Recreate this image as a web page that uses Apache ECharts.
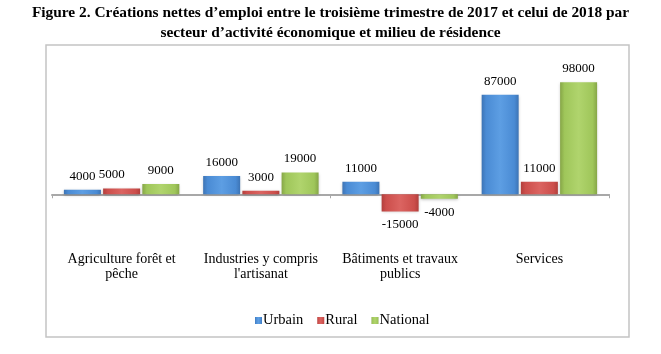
<!DOCTYPE html>
<html>
<head>
<meta charset="utf-8">
<script src="https://cdn.jsdelivr.net/npm/echarts@6/dist/echarts.min.js"></script>
<style>
  html, body { margin: 0; padding: 0; background: #fff; }
  #chart { width: 661px; height: 354px; }
</style>
</head>
<body>
<div id="chart"></div>
<script>
var categories = ['Agriculture forêt et\npêche', 'Industries y compris\nl\'artisanat', 'Bâtiments et travaux\npublics', 'Services']
var urbain = [4000, 16000, 11000, 87000]
var rural = [5000, 3000, -15000, 11000]
var national = [9000, 19000, -4000, 98000]

var serif = '"Liberation Serif", "DejaVu Serif", serif'

// couleur avec un petit effet de relief comme dans Excel
var bevel = function(dark, base, light) {
  return new echarts.graphic.LinearGradient(0, 0, 1, 0, [
    { offset: 0, color: dark },
    { offset: 0.12, color: base },
    { offset: 0.5, color: light },
    { offset: 0.88, color: base },
    { offset: 1, color: dark }
  ])
}

var mkSeries = function(name, values, fill) {
  return {
    name: name,
    type: 'bar',
    xAxisIndex: 0,
    barWidth: 37,
    barGap: '6%',
    data: values.map(function(v) {
      return { value: v, label: { position: v < 0 ? 'bottom' : 'top' } }
    }),
    itemStyle: {
      color: fill,
      shadowColor: 'rgba(0,0,0,0.25)',
      shadowBlur: 3,
      shadowOffsetY: 1
    },
    label: {
      show: true,
      distance: 7,
      color: '#000',
      fontFamily: serif,
      fontSize: 13
    }
  }
}

var chart = echarts.init(document.getElementById('chart'))
var series = [
  mkSeries('Urbain', urbain, bevel('#3d74b5', '#4a8bd4', '#5d9ee3')),
  mkSeries('Rural', rural, bevel('#b23f3c', '#cc4e4b', '#db6461')),
  mkSeries('National', national, bevel('#86a647', '#9fc65a', '#b0d46d'))
]
series[1].data[0].label.offset = [-10, 0]

var option = {
  animation: false,
  color: ['#4a8bd4', '#cc4e4b', '#9fc65a'],
  title: {
    text: 'Figure 2. Créations nettes d’emploi entre le troisième trimestre de 2017 et celui de 2018 par\nsecteur d’activité économique et milieu de résidence',
    left: 'center',
    top: -2,
    textStyle: {
      fontFamily: serif,
      fontWeight: 'bold',
      fontSize: 15.4,
      lineHeight: 20,
      color: '#000',
      align: 'center'
    }
  },
  graphic: [{
    type: 'rect',
    shape: { x: 46, y: 45, width: 583, height: 292 },
    style: { fill: 'none', stroke: '#c4c4c4', lineWidth: 1.5 },
    z: -1
  }],
  legend: {
    top: 308,
    left: 250,
    icon: 'rect',
    itemWidth: 7,
    itemHeight: 7,
    itemGap: 14,
    textStyle: { fontFamily: serif, fontSize: 14.5, color: '#000', padding: [0, 0, 0, -4] },
    data: ['Urbain', 'Rural', 'National']
  },
  grid: { left: 52, right: 52, top: 57, bottom: 114 },
  xAxis: [{
    type: 'category',
    data: categories,
    position: 'bottom',
    axisLine: { onZero: true, lineStyle: { color: '#a8a8a8', width: 2 } },
    axisTick: { show: true, length: 4, lineStyle: { color: '#a8a8a8' } },
    axisLabel: { show: false }
  }, {
    type: 'category',
    data: categories,
    position: 'bottom',
    axisLine: { show: false },
    axisTick: { show: false },
    axisLabel: {
      interval: 0,
      margin: 12,
      color: '#000',
      fontFamily: serif,
      fontSize: 14,
      lineHeight: 15
    }
  }],
  yAxis: {
    type: 'value',
    min: -40000,
    max: 120000,
    interval: 20000,
    show: false,
    splitLine: { show: false }
  },
  series: series
}
chart.setOption(option)
</script>
</body>
</html>
